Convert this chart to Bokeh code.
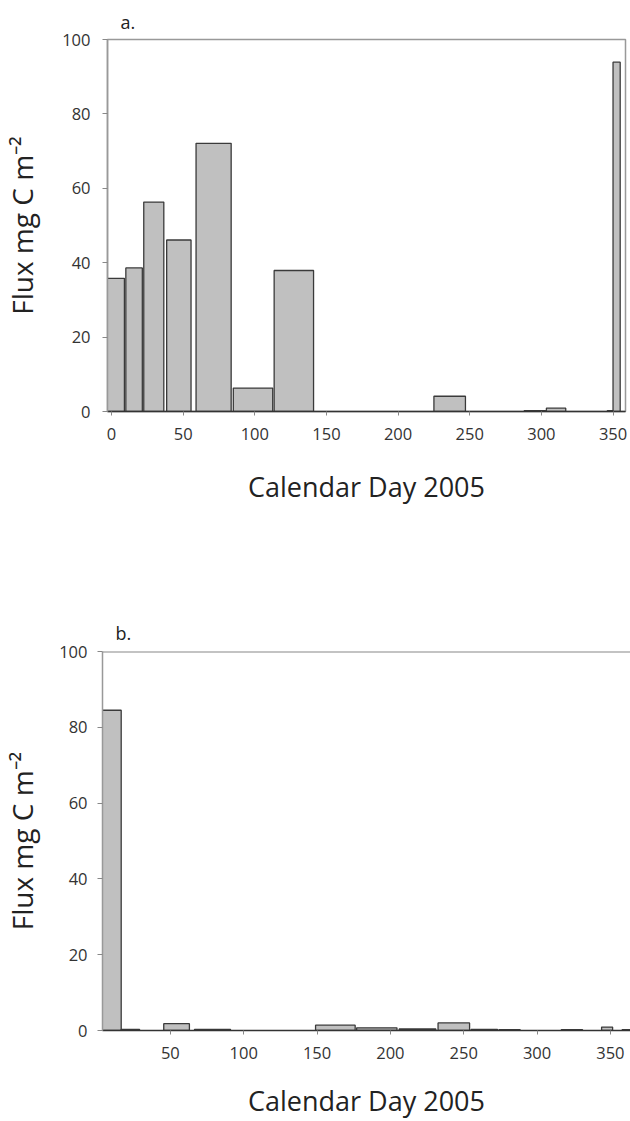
from bokeh.plotting import figure
from bokeh.models import Range1d, FixedTicker, Span
from bokeh.embed import file_html
from bokeh.resources import INLINE

# ---- data ----
a_start = [-5, 10, 22.5, 38.5, 59, 85, 113.5, 225, 288, 303.5, 346, 350]
a_end = [9, 21.5, 36.5, 55.5, 83.5, 112.5, 141, 247, 303, 317, 350, 355]
a_flux = [35.8, 38.6, 56.3, 46.1, 72.1, 6.3, 37.9, 4.1, 0.2, 0.9, 0.2, 93.9]

b_start = [0, 16.5, 45.5, 66.5, 149, 177, 206, 232.5, 255, 274, 316.5, 344, 358]
b_end = [16.5, 29, 63, 91, 176, 204.5, 231, 254, 273, 288.5, 331, 351.5, 370]
b_flux = [84.5, 0.3, 1.8, 0.3, 1.4, 0.7, 0.4, 2.0, 0.3, 0.2, 0.2, 0.9, 0.2]

a_xticks = [0, 50, 100, 150, 200, 250, 300, 350]
b_xticks = [50, 100, 150, 200, 250, 300, 350]
yticks = [0, 20, 40, 60, 80, 100]

x_title = "Calendar Day 2005"
y_title = "Flux mg C m\u207b\u00b2"

FONT = "Open Sans"


def make(panel, start, end, flux, xticks, xr, width, height, bl, bt, br, bb, box,
         ylab_std, ytitle_std, xtitle_std, title_std):
    p = figure(width=width, height=height, output_backend="svg", toolbar_location=None,
               x_range=Range1d(*xr), y_range=Range1d(0, 100),
               min_border_left=bl, min_border_top=bt, min_border_right=br, min_border_bottom=bb,
               title=panel)
    p.title.text_font = FONT
    p.title.text_font_size = "18px"
    p.title.text_font_style = "normal"
    p.title.text_color = "#222222"
    p.title.align = "left"
    p.title.offset = 13
    p.title.standoff = title_std
    p.xgrid.visible = False
    p.ygrid.visible = False
    p.background_fill_color = "white"
    p.border_fill_color = "white"
    if box:
        p.outline_line_color = "#999999"
        p.outline_line_width = 1.5
    else:
        p.outline_line_color = None
        p.add_layout(Span(location=100, dimension="width", line_color="#888888", line_width=2))

    p.quad(left=start, right=end, bottom=0, top=flux,
           fill_color="#c0c0c0", line_color="#3a3a3a", line_width=1.3)

    xa = p.xaxis[0]
    xa.ticker = FixedTicker(ticks=xticks)
    xa.minor_tick_line_color = None
    xa.major_tick_in = 0
    xa.major_tick_out = 4
    xa.major_tick_line_color = "#888888"
    xa.axis_line_color = "#333333"
    xa.axis_line_width = 1.5
    xa.major_label_text_font = FONT
    xa.major_label_text_font_size = "16.5px"
    xa.major_label_text_color = "#333333"
    xa.major_label_standoff = 12
    xa.axis_label = x_title
    xa.axis_label_text_font = FONT
    xa.axis_label_text_font_size = "27px"
    xa.axis_label_text_font_style = "normal"
    xa.axis_label_text_color = "#222222"
    xa.axis_label_standoff = xtitle_std

    ya = p.yaxis[0]
    ya.ticker = FixedTicker(ticks=yticks)
    ya.minor_tick_line_color = None
    ya.major_tick_in = 0
    ya.major_tick_out = 5
    ya.major_tick_line_color = "#888888"
    ya.axis_line_color = "#999999"
    ya.axis_line_width = 1.5
    ya.major_label_text_font = FONT
    ya.major_label_text_font_size = "16.5px"
    ya.major_label_text_color = "#333333"
    ya.major_label_standoff = ylab_std
    ya.axis_label = y_title
    ya.axis_label_text_font = FONT
    ya.axis_label_text_font_size = "28px"
    ya.axis_label_text_font_style = "normal"
    ya.axis_label_text_color = "#222222"
    ya.axis_label_standoff = ytitle_std
    return p


p1 = make("a.", a_start, a_end, a_flux, a_xticks, (-2.8, 358.7),
          630, 610, 107, 39, 5, 199, True, 12, 18, 25, 12)
p2 = make("b.", b_start, b_end, b_flux, b_xticks, (3.75, 363.7),
          630, 511, 102, 41, 0, 90, False, 10, 15, 20, 14)

open("out.html", "w").write(file_html([p1, p2], INLINE))
